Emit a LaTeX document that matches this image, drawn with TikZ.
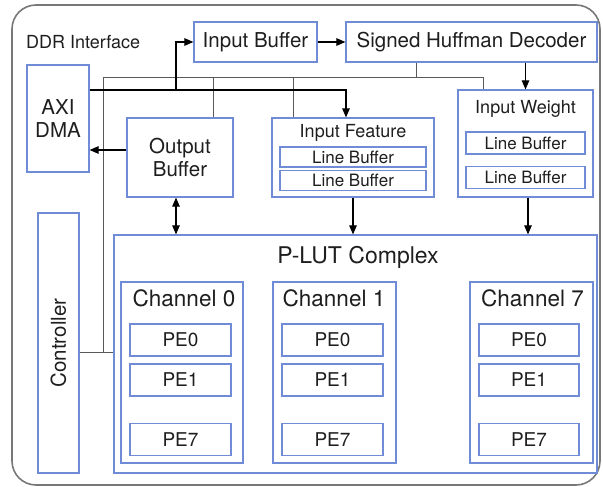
\documentclass[tikz,border=0pt]{standalone}
\usepackage{fontspec}
\setmainfont{TeX Gyre Heros}
\usepackage{tikz}
\usetikzlibrary{positioning,arrows.meta,calc}
\definecolor{boxblue}{RGB}{112,140,214}
\definecolor{ddrgray}{RGB}{120,120,120}
\definecolor{txt}{RGB}{30,30,30}

\begin{document}
\begin{tikzpicture}[x=1pt, y=-1pt, font=\fontsize{20.5}{23}\selectfont, text=txt,
  box/.style={draw=boxblue, line width=1.2pt, inner sep=0pt, align=center},
  outer/.style={draw=ddrgray, line width=1.6pt, rounded corners=24pt, inner sep=0pt},
  ttl/.style={inner sep=0pt},
  smallfont/.style={font=\fontsize{18}{20}\selectfont},
  lb/.style={box, minimum height=20, font=\fontsize{17}{19}\selectfont},
  pe/.style={box, minimum width=101, minimum height=32, font=\fontsize{19}{21}\selectfont},
  chan/.style={box, minimum width=122, minimum height=181},
  chttl/.style={inner sep=0pt, font=\fontsize{22.5}{25}\selectfont},
  arr/.style={-{Triangle[length=9pt, width=7.5pt]}, line width=1.1pt, black},
  darr/.style={{Triangle[length=9pt, width=7.5pt]}-{Triangle[length=9pt, width=7.5pt]}, line width=1.1pt, black},
  ctl/.style={draw=black!65, line width=0.7pt}]
\useasboundingbox (0,0) rectangle (603,487);
% DDR side
\node[outer, minimum width=588, minimum height=480] (ddr) at (306,245) {};
\node[ttl, smallfont, anchor=west] (ddrt) at (26,42) {DDR Interface};
\node[box, minimum width=123, minimum height=40] (ib) at (255.5,42) {Input Buffer};
\node[box, minimum width=251, minimum height=40] (huff) at (471.5,42) {Signed Huffman Decoder};
\node[box, minimum width=62, minimum height=107] (axi) at (58,118.5) {AXI\\DMA};
\node[box, minimum width=106, minimum height=79] (ob) at (180,157.5) {Output\\Buffer};
\node[box, minimum width=162, minimum height=79] (ifeat) at (353,157.5) {};
\node[ttl, smallfont] (ifeatt) at (353,133) {Input Feature};
\node[lb, minimum width=146] (iflb1) at (353,157) {Line Buffer};
\node[lb, minimum width=146] (iflb2) at (353,180.5) {Line Buffer};
\node[box, minimum width=135, minimum height=107] (iwgt) at (525.5,143.5) {};
\node[ttl, smallfont] (iwgtt) at (525.5,108.5) {Input Weight};
\node[lb, minimum width=119, minimum height=22] (iwlb1) at (525.5,143) {Line Buffer};
\node[lb, minimum width=119, minimum height=22] (iwlb2) at (525.5,177.5) {Line Buffer};
\node[box, minimum width=41, minimum height=260] (ctrl) at (58.5,343) {};
\node[ttl, rotate=90] (ctrlt) at (ctrl) {Controller};
% P-LUT complex
\node[box, minimum width=483, minimum height=238] (plut) at (355.5,354) {};
\node[ttl, font=\fontsize{23}{25}\selectfont] (plutt) at (358,257) {P-LUT Complex};
\node[chan] (ch0) at (182,372.5) {};
\node[chttl] (ch0t) at (184,298) {Channel 0};
\node[pe] (ch0pe0) at (180.5,340) {PE0};
\node[pe] (ch0pe1) at (180.5,380) {PE1};
\node[pe] (ch0pe7) at (180.5,439.5) {PE7};
\node[chan, minimum width=123] (ch1) at (334.5,372.5) {};
\node[chttl] (ch1t) at (334,298) {Channel 1};
\node[pe] (ch1pe0) at (332.5,340) {PE0};
\node[pe] (ch1pe1) at (332.5,380) {PE1};
\node[pe] (ch1pe7) at (332.5,439.5) {PE7};
\node[chan, minimum width=123] (ch7) at (531.5,372.5) {};
\node[chttl] (ch7t) at (532.5,298) {Channel 7};
\node[pe, minimum width=100] (ch7pe0) at (529,340) {PE0};
\node[pe, minimum width=100] (ch7pe1) at (529,380) {PE1};
\node[pe, minimum width=100] (ch7pe7) at (529,439.5) {PE7};
% bus points
\coordinate (busw) at (103,77);
\coordinate (buse) at (483,77);
\coordinate (obtap) at (213,77);
\coordinate (iftap) at (293,77);
\coordinate (hftap) at (416,77);
\coordinate (ctltap) at (103,352);
\coordinate (dbus) at (176,90);
\coordinate (dturn) at (346,90);
\coordinate (obout) at ([yshift=7.5pt]ob.west);
% control lines
\draw[ctl] (busw) -- (buse) -- (iwgt.north -| buse);
\draw[ctl] (huff.south -| hftap) -- (hftap);
\draw[ctl] (obtap) -- (ob.north -| obtap);
\draw[ctl] (iftap) -- (ifeat.north -| iftap);
\draw[ctl] (busw) -- (ctltap);
\draw[ctl] (ctrl.east |- ctltap) -- (plut.west |- ctltap);
% data paths
\draw[arr] (axi.east |- dturn) -- (dturn) -- (ifeat.north -| dturn);
\draw[arr] (dbus) |- (ib.west);
\draw[arr] (ib) -- (huff);
\draw[arr] (obout) -- (obout -| axi.east);
\draw[arr] (huff.south -| iwgt.north) -- (iwgt.north);
\draw[darr] (ob.south -| dbus) -- (plut.north -| dbus);
\draw[arr] (ifeat.south) -- (ifeat.south |- plut.north);
\draw[arr] ([xshift=2.5pt]iwgt.south) -- ([xshift=2.5pt]iwgt.south |- plut.north);
\end{tikzpicture}
\end{document}
